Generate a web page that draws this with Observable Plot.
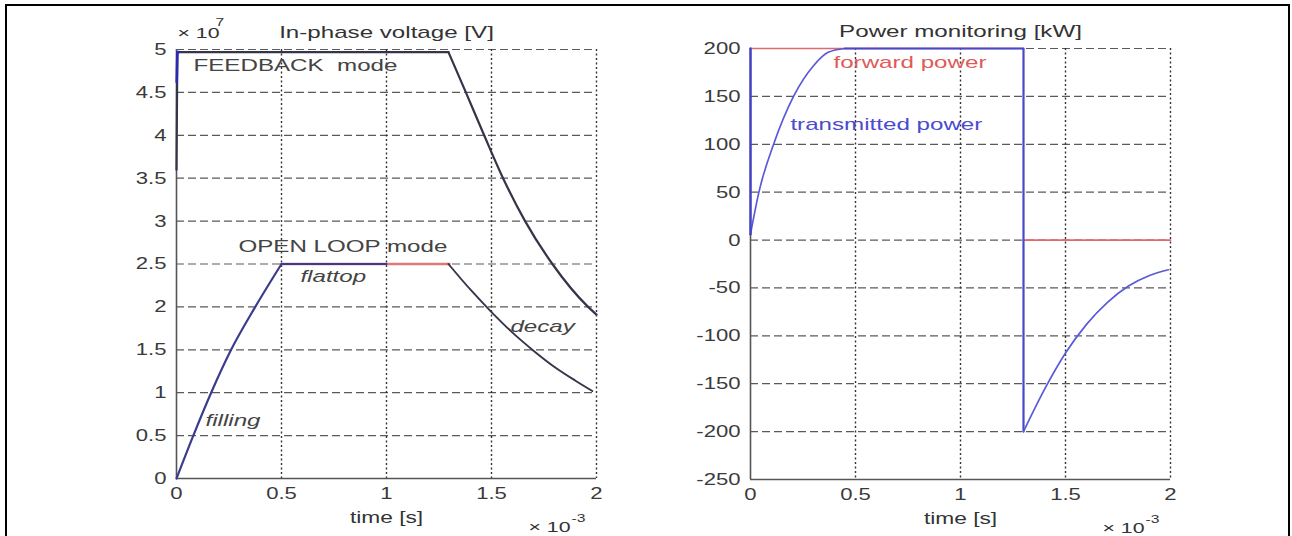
<!DOCTYPE html>
<html><head><meta charset="utf-8">
<script src="https://cdn.jsdelivr.net/npm/d3@7"></script>
<script src="https://cdn.jsdelivr.net/npm/@observablehq/plot@0.6"></script>
<style>
body{margin:0;background:#fff;}
#wrap{position:relative;width:1292px;height:536px;overflow:hidden;background:#fff;}
#border{position:absolute;left:5px;top:4px;width:1285px;height:600px;border:2px solid #000;box-sizing:border-box;}
.panel{position:absolute;top:0;}
.panel svg text{white-space:pre;}
</style></head><body>
<div id="wrap"><div id="border"></div><div id="left" class="panel" style="left:0"></div><div id="right" class="panel" style="left:646px"></div></div>
<script>
// ---- tick values (time in units of 1e-3 s, voltage in units of 1e7 V, power in kW)
const timeTicks = [0, 0.5, 1, 1.5, 2];
const voltTicks = [0, 0.5, 1, 1.5, 2, 2.5, 3, 3.5, 4, 4.5, 5];
const powerTicks = [-250, -200, -150, -100, -50, 0, 50, 100, 150, 200];

// ---- In-phase voltage: FEEDBACK mode
const fbFlatT = [0, 0.004, 0.02, 1.295];
const fbFlatV = [3.6, 4.97, 4.97, 4.97];
const fbDecayT = [1.295, 1.378, 1.465, 1.555, 1.66, 1.79, 1.96, 2.0];
const fbDecayV = [4.97, 4.5, 4.0, 3.5, 3.0, 2.5, 2.0, 1.91];
const fbStartT = [0.001, 0.004, 0.014];
const fbStartV = [4.62, 4.97, 4.97];
// ---- OPEN LOOP mode
const olFillT = [0, 0.08, 0.165, 0.26, 0.375, 0.5];
const olFillV = [0, 0.5, 1.0, 1.5, 2.0, 2.5];
const olTopT = [0.5, 1.0];
const olTopV = [2.5, 2.5];
const olRefT = [0.5, 1.3];
const olRefV = [2.5, 2.5];
const olDecayT = [1.295, 1.4, 1.5, 1.6, 1.7, 1.8, 1.9, 1.98];
const olDecayV = [2.5, 2.2, 1.94, 1.7, 1.49, 1.3, 1.14, 1.02];

// ---- Power monitoring
const fwdT1 = [0, 1.3];
const fwdP1 = [200, 200];
const fwdT2 = [1.3, 2.0];
const fwdP2 = [0, 0];
const trRiseT = [0, 0.04, 0.11, 0.205, 0.3, 0.37, 0.45];
const trRiseP = [6, 50, 100, 150, 182, 196, 200];
const trJumpT = [0.45, 1.3, 1.3];
const trJumpP = [200, 200, -200];
const trDecayT = [1.3, 1.4, 1.5, 1.6, 1.7, 1.8, 1.9, 1.99];
const trDecayP = [-200, -156, -118, -88, -65, -48, -37, -31];
const trEdgeT = [0, 0];
const trEdgeP = [6, 200];

// ---- labels
const leftNotes = ["FEEDBACK  mode", "OPEN LOOP mode"];
const leftNoteT = [0.081, 0.295];
const leftNoteV = [4.81, 2.70];
const leftItalicNotes = ["flattop", "decay", "filling"];
const leftItalicT = [0.59, 1.59, 0.138];
const leftItalicV = [2.35, 1.77, 0.68];
const rightNotes = ["forward power", "transmitted power"];
const rightNoteT = [0.395, 0.19];
const rightNoteP = [185, 121];
const rightNoteColor = ["#e05a5a", "#4b4bd0"];

const tbl = (ts, vs) => ts.map((t, i) => ({t, v: vs[i]}));
const fmt = d => String(d);
const FONT = "'Liberation Sans', Arial, Helvetica, sans-serif";

// widen glyphs horizontally (the reference font is drawn wide)
function stretch(svg) {
  svg.querySelectorAll("text").forEach(el => {
    const g = el.closest("g[aria-label]");
    const lab = g ? g.getAttribute("aria-label") : "";
    const s = /tick label/.test(lab) ? 1.3 : 1.42;
    const len = el.getComputedTextLength();
    if (len > 0) {
      el.setAttribute("textLength", (len * s).toFixed(1));
      el.setAttribute("lengthAdjust", "spacingAndGlyphs");
    }
  });
}

function frameMarks(xTicks, yTicks) {
  const y0 = yTicks[0];
  return [
    Plot.ruleY(yTicks.filter(d => d !== y0), {stroke: "#5a5a5a", strokeDasharray: "8,4", strokeWidth: 1.2}),
    Plot.ruleX(xTicks.filter(d => d !== 0), {stroke: "#333", strokeDasharray: "2,2.5", strokeWidth: 1.4}),
    Plot.ruleY([y0], {stroke: "#555", strokeWidth: 1.6}),
    Plot.ruleX([0], {stroke: "#555", strokeWidth: 1.6})
  ];
}

function axesMarks(xTicks, yTicks, title, expo) {
  return [
    Plot.axisY(yTicks, {tickSize: 0, tickPadding: 10, tickFormat: fmt, label: null, fontSize: 17, fill: "#3a3a3a"}),
    Plot.axisX(xTicks, {tickSize: 0, tickPadding: 8, tickFormat: fmt, label: null, fontSize: 17, fill: "#3a3a3a"}),
    Plot.text([title], {frameAnchor: "top", dy: -17, lineAnchor: "middle", fontSize: 17, fill: "#333", ariaLabel: "title"}),
    Plot.text(["time [s]"], {frameAnchor: "bottom", dy: 39, lineAnchor: "middle", fontSize: 16, fill: "#333", ariaLabel: "xlabel"}),
    Plot.text(["\u00d7 10"], {frameAnchor: "bottom-right", dx: -26, dy: 49, textAnchor: "end", lineAnchor: "middle", fontSize: 15, fill: "#333"}),
    Plot.text(["-3"], {frameAnchor: "bottom-right", dx: -25, dy: 40, textAnchor: "start", lineAnchor: "middle", fontSize: 11, fill: "#333"}),
    ...(expo ? [
      Plot.text(["\u00d7 10"], {frameAnchor: "top-left", dx: 1, dy: -16, textAnchor: "start", lineAnchor: "middle", fontSize: 15, fill: "#333"}),
      Plot.text(["7"], {frameAnchor: "top-left", dx: 39, dy: -27, textAnchor: "start", lineAnchor: "middle", fontSize: 11, fill: "#333"})
    ] : [])
  ];
}

const left = Plot.plot({
  width: 646, height: 536,
  marginLeft: 176, marginRight: 50, marginTop: 49, marginBottom: 58,
  x: {domain: [0, 2]}, y: {domain: [0, 5]},
  style: {fontFamily: FONT, fontSize: "17px", color: "#333", background: "transparent", overflow: "visible"},
  marks: [
    ...frameMarks(timeTicks, voltTicks),
    Plot.line(tbl(olRefT, olRefV), {x: "t", y: "v", stroke: "#e07a7a", strokeWidth: 2.4}),
    Plot.line(tbl(olFillT, olFillV), {x: "t", y: "v", stroke: "#3c3c8e", strokeWidth: 2.2, curve: "monotone-x"}),
    Plot.line(tbl(olTopT, olTopV), {x: "t", y: "v", stroke: "#3c3c8e", strokeWidth: 2.2}),
    Plot.line(tbl(olDecayT, olDecayV), {x: "t", y: "v", stroke: "#35354a", strokeWidth: 1.9, curve: "monotone-x"}),
    Plot.line(tbl(fbFlatT, fbFlatV), {x: "t", y: "v", stroke: "#35354a", strokeWidth: 2.2}),
    Plot.line(tbl(fbDecayT, fbDecayV), {x: "t", y: "v", stroke: "#35354a", strokeWidth: 2.2, curve: "monotone-x"}),
    Plot.line(tbl(fbStartT, fbStartV), {x: "t", y: "v", stroke: "#2a2ab0", strokeWidth: 2.6}),
    Plot.text(leftNotes, {x: (d, i) => leftNoteT[i], y: (d, i) => leftNoteV[i], text: d => d,
      textAnchor: "start", lineAnchor: "middle", fontSize: 17, fill: "#444", ariaLabel: "notes"}),
    Plot.text(leftItalicNotes, {x: (d, i) => leftItalicT[i], y: (d, i) => leftItalicV[i], text: d => d,
      textAnchor: "start", lineAnchor: "middle", fontSize: 17, fill: "#444", fontStyle: "italic", ariaLabel: "notes"}),
    ...axesMarks(timeTicks, voltTicks, "In-phase voltage [V]", true)
  ]
});

const right = Plot.plot({
  width: 646, height: 536,
  marginLeft: 104, marginRight: 122, marginTop: 48, marginBottom: 57,
  x: {domain: [0, 2]}, y: {domain: [-250, 200]},
  style: {fontFamily: FONT, fontSize: "17px", color: "#333", background: "transparent", overflow: "visible"},
  marks: [
    ...frameMarks(timeTicks, powerTicks),
    Plot.line(tbl(fwdT1, fwdP1), {x: "t", y: "v", stroke: "#e06a6a", strokeWidth: 1.7}),
    Plot.line(tbl(fwdT2, fwdP2), {x: "t", y: "v", stroke: "#e06a6a", strokeWidth: 1.7}),
    Plot.line(tbl(trRiseT, trRiseP), {x: "t", y: "v", stroke: "#5a5ad8", strokeWidth: 1.7, curve: "monotone-x"}),
    Plot.line(tbl(trJumpT, trJumpP), {x: "t", y: "v", stroke: "#4848cc", strokeWidth: 2.2}),
    Plot.line(tbl(trDecayT, trDecayP), {x: "t", y: "v", stroke: "#5a5ad8", strokeWidth: 1.7, curve: "monotone-x"}),
    Plot.line(tbl(trEdgeT, trEdgeP), {x: "t", y: "v", stroke: "#4444c8", strokeWidth: 2.4}),
    Plot.text(rightNotes, {x: (d, i) => rightNoteT[i], y: (d, i) => rightNoteP[i], text: d => d,
      textAnchor: "start", lineAnchor: "middle", fontSize: 17, fill: (d, i) => rightNoteColor[i], ariaLabel: "notes"}),
    ...axesMarks(timeTicks, powerTicks, "Power monitoring [kW]", false)
  ]
});

document.getElementById("left").appendChild(left);
document.getElementById("right").appendChild(right);
stretch(left);
stretch(right);
</script>
</body></html>
